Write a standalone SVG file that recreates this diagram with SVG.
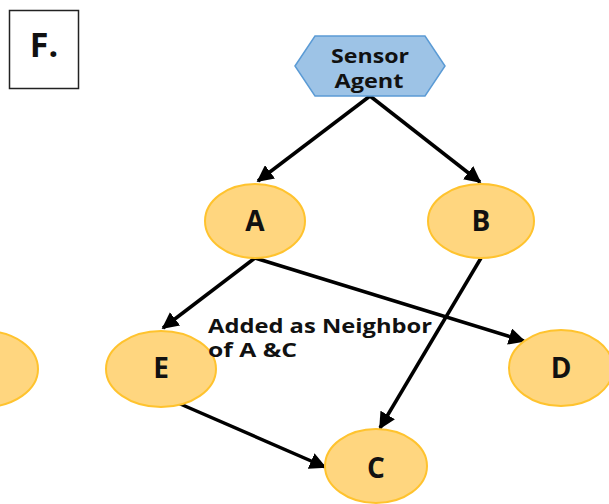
<svg xmlns="http://www.w3.org/2000/svg" width="609" height="504" viewBox="0 0 609 504">
<style>
.node{fill:#FFD67F;stroke:#FFC32E;stroke-width:2}
.lbl{font-family:"Open Sans",Lato,sans-serif;font-weight:bold;fill:#111;text-anchor:middle}
.big{font-size:28px}
.edge{stroke:#000;stroke-width:3.5;fill:none;marker-end:url(#ah)}
</style>
<defs>
<marker id="ah" viewBox="0 0 10 10" refX="9" refY="5" markerWidth="4.8" markerHeight="4.8" orient="auto" markerUnits="strokeWidth">
<path d="M0,0 L10,5 L0,10 z" fill="#000"/>
</marker>
</defs>
<rect width="609" height="504" fill="#fff"/>
<g id="panel-label">
<rect x="9.5" y="10.5" width="69" height="78" fill="#fff" stroke="#222" stroke-width="1.5"/>
<text x="44" y="57" class="lbl" font-size="34" font-family="Liberation Sans,Arial,sans-serif">F.</text>
</g>
<g id="connectors">
<line class="edge" x1="370" y1="96" x2="258" y2="181"/>
<line class="edge" x1="370" y1="96" x2="480" y2="182"/>
<line class="edge" x1="255" y1="258" x2="163" y2="328"/>
<line class="edge" x1="255" y1="258" x2="524" y2="341"/>
<line class="edge" x1="481" y1="258" x2="380" y2="428"/>
<line class="edge" x1="178" y1="403" x2="325" y2="467"/>
</g>
<g id="sensor">
<polygon points="295,66 315,36 425,36 445,66 425,96 315,96" fill="#9DC3E6" stroke="#5B9BD5" stroke-width="1.5"/>
<text x="370" y="63" class="lbl" font-size="19" textLength="78" lengthAdjust="spacingAndGlyphs">Sensor</text>
<text x="369" y="88" class="lbl" font-size="19" textLength="69" lengthAdjust="spacingAndGlyphs">Agent</text>
</g>
<g id="node-A"><ellipse class="node" cx="255" cy="221" rx="50" ry="37"/><text x="255" y="231" class="lbl big">A</text></g>
<g id="node-B"><ellipse class="node" cx="481" cy="221" rx="53" ry="37"/><text x="481" y="231" class="lbl big">B</text></g>
<g id="node-E"><ellipse class="node" cx="161" cy="369" rx="55" ry="38"/><text x="161" y="378" class="lbl big">E</text></g>
<g id="node-D"><ellipse class="node" cx="561" cy="368" rx="52" ry="38"/><text x="561" y="378" class="lbl big">D</text></g>
<g id="node-C"><ellipse class="node" cx="376" cy="466" rx="51" ry="37"/><text x="376" y="478" class="lbl big">C</text></g>
<g id="node-left"><ellipse class="node" cx="-16" cy="369" rx="54" ry="38"/></g>
<g id="note">
<text x="208" y="333" font-family="'Open Sans',Lato,sans-serif" font-weight="bold" font-size="19" fill="#111" textLength="224" lengthAdjust="spacingAndGlyphs">Added as Neighbor</text>
<text x="208" y="357" font-family="'Open Sans',Lato,sans-serif" font-weight="bold" font-size="19" fill="#111" textLength="89" lengthAdjust="spacingAndGlyphs">of A &amp;C</text>
</g>
</svg>
